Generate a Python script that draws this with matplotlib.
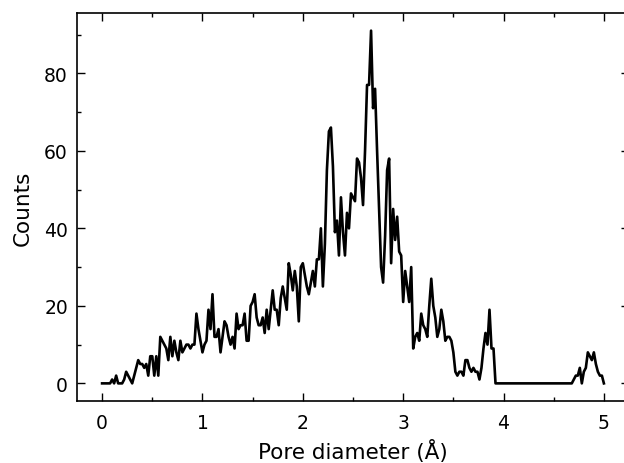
import numpy as np
import matplotlib
matplotlib.use("Agg")
import matplotlib.pyplot as plt
from matplotlib.ticker import MultipleLocator

# Pore diameter bins (Å), step 0.02
pore_diameter = np.round(np.arange(0, 5.0001, 0.02), 2)

counts_0_1 = [0, 0, 0, 0, 0, 1, 0, 2, 0, 0,
              0, 1, 3, 2, 1, 0, 2, 4, 6, 5,
              5, 4, 5, 2, 7, 7, 2, 7, 2, 12,
              11, 10, 9, 6, 12, 7, 11, 8, 6, 11,
              8, 9, 10, 10, 9, 10, 10, 18, 14, 11]
counts_1_2 = [8, 10, 11, 19, 14, 23, 12, 12, 14, 8,
              12, 16, 15, 12, 10, 12, 9, 18, 14, 15,
              15, 18, 11, 11, 20, 21, 23, 17, 15, 15,
              17, 13, 19, 14, 19, 24, 19, 19, 15, 22,
              25, 22, 19, 31, 28, 24, 29, 25, 16, 30]
counts_2_3 = [31, 28, 25, 23, 26, 29, 25, 32, 32, 40,
              25, 36, 55, 65, 66, 56, 39, 42, 33, 48,
              39, 33, 44, 40, 49, 48, 47, 58, 57, 53,
              46, 60, 77, 77, 91, 71, 76, 60, 45, 30,
              26, 38, 55, 58, 31, 45, 37, 43, 34, 33]
counts_3_4 = [21, 29, 25, 21, 30, 9, 12, 13, 11, 18,
              15, 14, 12, 20, 27, 20, 17, 12, 14, 19,
              16, 11, 12, 12, 11, 8, 3, 2, 3, 3,
              2, 6, 6, 4, 3, 4, 3, 3, 1, 4,
              9, 13, 10, 19, 9, 9, 0, 0, 0, 0]
counts_4_5 = [0, 0, 0, 0, 0, 0, 0, 0, 0, 0,
              0, 0, 0, 0, 0, 0, 0, 0, 0, 0,
              0, 0, 0, 0, 0, 0, 0, 0, 0, 0,
              0, 0, 0, 0, 0, 1, 2, 2, 4, 0,
              3, 4, 8, 7, 6, 8, 5, 3, 2, 2,
              0]
counts = np.array(counts_0_1 + counts_1_2 + counts_2_3 + counts_3_4 + counts_4_5)

x_label = "Pore diameter (Å)"
y_label = "Counts"

fig = plt.figure(figsize=(6.24, 4.64), dpi=100)
ax = fig.add_axes([0.1234, 0.1336, 0.8846, 0.8362])
ax.plot(pore_diameter, counts, color="black", linewidth=1.9)

ax.xaxis.set_major_locator(MultipleLocator(1))
ax.xaxis.set_minor_locator(MultipleLocator(0.5))
ax.yaxis.set_major_locator(MultipleLocator(20))
ax.yaxis.set_minor_locator(MultipleLocator(10))
ax.tick_params(which="both", direction="in", top=True, right=True, width=1.0)
ax.tick_params(which="major", length=5.5, labelsize=13.5)
ax.tick_params(axis="x", which="major", pad=8.5)
ax.tick_params(axis="y", which="major", pad=6.5)
ax.tick_params(which="minor", length=3)
for s in ax.spines.values():
    s.set_linewidth(1.2)

ax.set_xlabel(x_label, fontsize=15.5, labelpad=5)
ax.set_ylabel(y_label, fontsize=15.5, labelpad=8)

fig.savefig("out.png", dpi=100)
